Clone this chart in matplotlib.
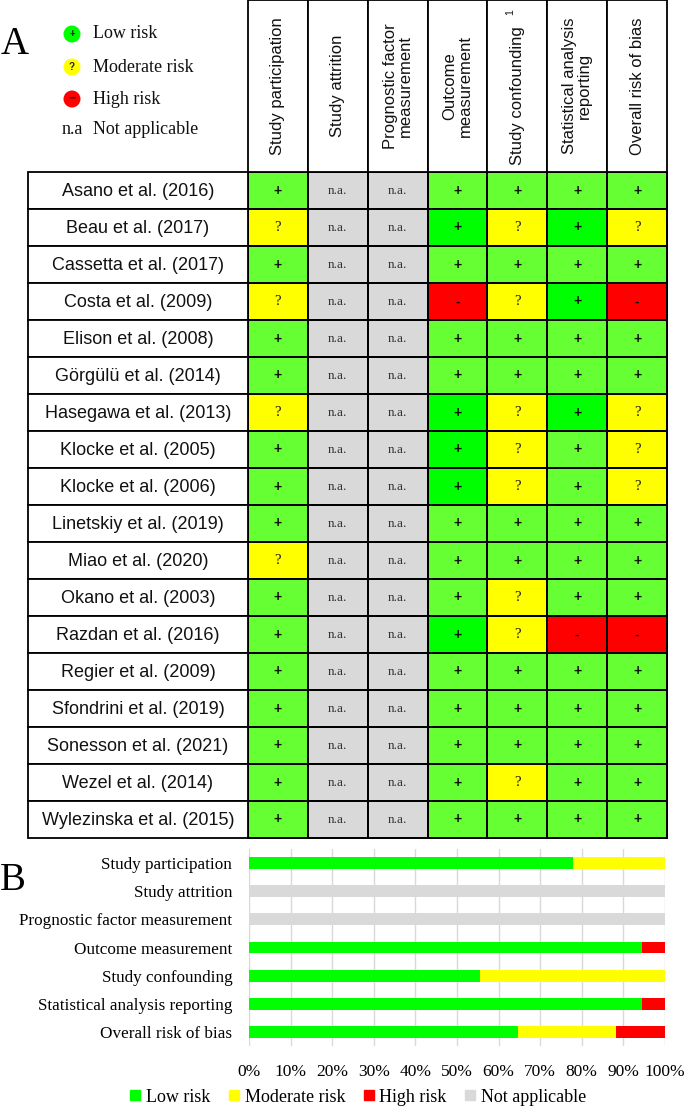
import numpy as np
import matplotlib
matplotlib.use("Agg")
import matplotlib.pyplot as plt
from matplotlib.colors import ListedColormap
from matplotlib.patches import Rectangle
from matplotlib.lines import Line2D

SANS, SERIF = "Liberation Sans", "Liberation Serif"

# ── panel A: risk-of-bias table ──
STUDIES = ["Asano et al. (2016)", "Beau et al. (2017)", "Cassetta et al. (2017)",
           "Costa et al. (2009)", "Elison et al. (2008)", "Görgülü et al. (2014)",
           "Hasegawa et al. (2013)", "Klocke et al. (2005)", "Klocke et al. (2006)",
           "Linetskiy et al. (2019)", "Miao et al. (2020)", "Okano et al. (2003)",
           "Razdan et al. (2016)", "Regier et al. (2009)", "Sfondrini et al. (2019)",
           "Sonesson et al. (2021)", "Wezel et al. (2014)", "Wylezinska et al. (2015)"]
DOMAINS = ["Study participation", "Study attrition", "Prognostic factor\nmeasurement",
           "Outcome\nmeasurement", "Study confounding", "Statistical analysis\nreporting",
           "Overall risk of bias"]
# l = low (light green), L = low (bright green), m = moderate, h = high, n = not applicable
RATINGS = ["lnnllll", "mnnLmLm", "lnnllll", "mnnhmLh", "lnnllll", "lnnllll",
           "mnnLmLm", "lnnLmlm", "lnnLmlm", "lnnllll", "mnnllll", "lnnlmll",
           "lnnLmhh", "lnnllll", "lnnllll", "lnnllll", "lnnlmll", "lnnllll"]
CODES = "lLmhn"
FILLS = ["#66ff33", "#00ff00", "#ffff00", "#ff0000", "#d9d9d9"]
SYMBOLS = ["+", "+", "?", "-", "n.a."]

# ── panel B: summary bars (percent of studies) ──
B_DOMAINS = ["Study participation", "Study attrition", "Prognostic factor measurement",
             "Outcome measurement", "Study confounding", "Statistical analysis reporting",
             "Overall risk of bias"]
B_LOW = [77.8, 0, 0, 94.4, 55.6, 94.4, 64.7]
B_MOD = [22.2, 0, 0, 0, 44.4, 0, 23.5]
B_HIGH = [0, 0, 0, 5.6, 0, 5.6, 11.8]
B_NA = [0, 100, 100, 0, 0, 0, 0]
B_SERIES = ["Low risk", "Moderate risk", "High risk", "Not applicable"]
B_COLORS = ["#00ff00", "#ffff00", "#ff0000", "#d9d9d9"]

W, H = 685, 1108
fig = plt.figure(figsize=(W / 100, H / 100), dpi=100)
fig.patch.set_facecolor("white")


def px_axes(l, t, r, b):
    return fig.add_axes([l / W, 1 - b / H, (r - l) / W, (b - t) / H])


def ftext(x, y, s, **kw):
    return fig.text(x / W, 1 - y / H, s, **kw)


# table geometry (data units: 1 column wide, 1 row high)
NAME_W = 220 / 59.86
HEAD_H = 172 / 37.0
ax = px_axes(28, 0, 667, 838)
ax.set_xlim(-NAME_W, len(DOMAINS)); ax.set_ylim(len(STUDIES), -HEAD_H); ax.axis("off")

codes = np.array([[CODES.index(c) for c in r] for r in RATINGS])
mesh = ax.pcolormesh(np.arange(len(DOMAINS) + 1), np.arange(len(STUDIES) + 1), codes,
                     cmap=ListedColormap(FILLS), vmin=-0.5, vmax=4.5,
                     edgecolors="black", linewidth=1.3)
mesh.set_clip_on(False)

for i, row in enumerate(codes):
    ax.add_patch(Rectangle((-NAME_W, i), NAME_W, 1, fc="white", ec="black", lw=1.3, clip_on=False))
    ax.text(-NAME_W / 2, i + 0.52, STUDIES[i], ha="center", va="center", fontsize=13,
            family=SANS, color="#111111")
    for j, k in enumerate(row):
        sym = SYMBOLS[k]
        if sym == "n.a.":
            ax.text(j + 0.5, i + 0.52, sym, ha="center", va="center", fontsize=9.5,
                    family=SERIF, color="#333333")
        elif sym == "?":
            ax.text(j + 0.5, i + 0.5, sym, ha="center", va="center", fontsize=10.5,
                    family=SERIF, color="#111111")
        else:
            ax.text(j + 0.5, i + 0.5, sym, ha="center", va="center", fontsize=10,
                    family=SANS, weight="bold", color="#111111")

for j, name in enumerate(DOMAINS):
    ax.add_patch(Rectangle((j, -HEAD_H), 1, HEAD_H, fc="white", ec="black", lw=1.3, clip_on=False))
    shift = 0.25 if name == "Study confounding" else 0
    ax.text(j + 0.5, -HEAD_H / 2 + shift, name, rotation=90, ha="center", va="center",
            multialignment="center", fontsize=12, family=SANS, color="#111111",
            linespacing=1.0)
# footnote mark on the confounding header
ax.text(4.38, -HEAD_H + 0.33, "1", rotation=90, ha="center", va="center", fontsize=7.5,
        family=SANS, color="#111111")

# panel A legend
ftext(15, 44, "A", fontsize=28, family=SERIF, ha="center", va="center")
ov = fig.add_axes([0, 0, 1, 1], zorder=-1); ov.set_xlim(0, W); ov.set_ylim(H, 0); ov.axis("off")
for yy, fc, sym, lab in [(34, "#00ff00", "+", "Low risk"), (67, "#ffff00", "?", "Moderate risk"),
                         (99, "#ff0000", "\u2212", "High risk")]:
    ov.scatter([72], [yy], s=150, c=fc, edgecolors="none", zorder=1)
    ov.text(72, yy, sym, ha="center", va="center", fontsize=9 if fc == "#ff0000" else 7,
            family=SANS, weight="bold", color="#4a0000" if fc == "#ff0000" else "#222222", zorder=2)
    ov.text(93, yy, lab, ha="left", va="center", fontsize=13, family=SERIF, color="#111111")
ov.text(72, 130, "n.a", ha="center", va="center", fontsize=13, family=SERIF, color="#111111")
ov.text(93, 130, "Not applicable", ha="left", va="center", fontsize=13, family=SERIF, color="#111111")

# ── panel B ──
axb = px_axes(249, 849, 665, 1046)
y = np.arange(len(B_DOMAINS))
left = np.zeros(len(B_DOMAINS))
for vals, col in zip([B_LOW, B_MOD, B_HIGH, B_NA], B_COLORS):
    axb.barh(y, vals, left=left, height=0.42, color=col, zorder=2)
    left += np.array(vals)
axb.set_ylim(len(B_DOMAINS) - 0.5, -0.5)
axb.set_xlim(0, 100)
axb.set_yticks(y, B_DOMAINS, fontsize=12.3, family=SERIF)
xt = np.arange(0, 101, 10)
axb.set_xticks(xt, [f"{v}%" for v in xt], fontsize=12.5, family=SERIF)
axb.tick_params(axis="y", length=0, pad=12)
axb.tick_params(axis="x", length=0, pad=13)
axb.xaxis.grid(True, color="#d9d9d9", lw=1); axb.set_axisbelow(True)
for s in axb.spines.values():
    s.set_visible(False)

ftext(13, 880, "B", fontsize=28, family=SERIF, ha="center", va="center")

handles = [Line2D([], [], ls="none", marker="s", ms=7, mfc=c, mec=c) for c in B_COLORS]
fig.legend(handles, B_SERIES, loc="center", bbox_to_anchor=(358 / W, 1 - 1097 / H), ncol=4,
           frameon=False, handlelength=0.6, handletextpad=0.3, columnspacing=1.0,
           prop={"family": SERIF, "size": 13})

fig.savefig("out.png", dpi=100)
